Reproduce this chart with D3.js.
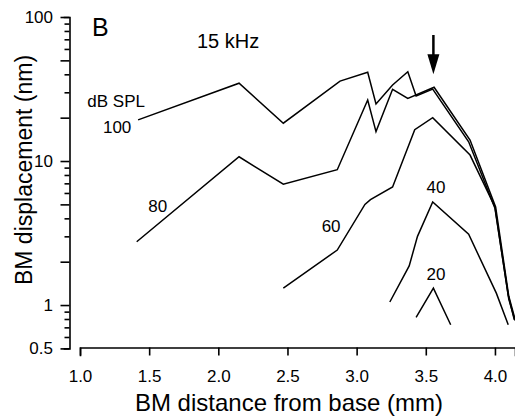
<!DOCTYPE html>
<html>
<head>
<meta charset="utf-8">
<script src="https://cdn.jsdelivr.net/npm/d3@7"></script>
<style>
  body { margin: 0; background: #fff; }
  svg { display: block; font-family: "Liberation Sans", Arial, sans-serif; }
  .axis path, .axis line { stroke: #000; stroke-width: 1.6; }
  .axis text { font-size: 17px; fill: #000; }
  .curve { fill: none; stroke: #000; stroke-width: 1.5; stroke-linejoin: miter; }
</style>
</head>
<body>
<div class="viz"></div>
<script>
var width = 515,
height = 416

// BM distance from base (mm) / displacement (nm), one array per level
var levels = [100, 80, 60, 40, 20]

var dist100 = [1.42, 2.15, 2.47, 2.88, 3.08, 3.14, 3.26, 3.37, 3.43, 3.55, 3.81, 4.0, 4.096, 4.14]
var disp100 = [19.3, 34.7, 18.3, 35.9, 41.3, 24.9, 33.7, 41.7, 28.3, 31.6, 13.6, 4.7, 1.17, 0.79]

var dist80 = [1.41, 2.15, 2.47, 2.86, 3.08, 3.14, 3.26, 3.37, 3.56, 3.82, 4.005, 4.1, 4.145]
var disp80 = [2.75, 10.7, 6.9, 8.7, 26.5, 16, 31.5, 27.2, 32.5, 14, 4.8, 1.15, 0.8]

var dist60 = [2.47, 2.86, 3.06, 3.1, 3.26, 3.42, 3.55, 3.82, 4.0, 4.1, 4.145]
var disp60 = [1.31, 2.41, 5.0, 5.4, 6.6, 16.5, 20, 11, 4.8, 1.1, 0.78]

var dist40 = [3.24, 3.38, 3.44, 3.55, 3.81, 4.01, 4.096]
var disp40 = [1.05, 1.87, 3.0, 5.2, 3.1, 1.21, 0.73]

var dist20 = [3.43, 3.555, 3.68]
var disp20 = [0.82, 1.31, 0.73]

var xTicks = [1.0, 1.5, 2.0, 2.5, 3.0, 3.5, 4.0]
var yLabelled = [0.5, 1, 10, 100]

// text annotations, in data units (mm, nm)
var notes = [
    {text: "B", x: 1.087, y: 73.8, size: 25},
    {text: "15 kHz", x: 1.846, y: 60.6, size: 20},
    {text: "dB SPL", x: 1.053, y: 23.7, size: 17},
    {text: "100", x: 1.166, y: 15.6, size: 17},
    {text: "80", x: 1.494, y: 4.45, size: 17},
    {text: "60", x: 2.747, y: 3.23, size: 17},
    {text: "40", x: 3.506, y: 5.97, size: 17},
    {text: "20", x: 3.506, y: 1.49, size: 17}
]
var arrowX = 3.555, arrowFrom = 75, arrowTo = 40

var series = [
    {level: 100, xs: dist100, ys: disp100},
    {level: 80, xs: dist80, ys: disp80},
    {level: 60, xs: dist60, ys: disp60},
    {level: 40, xs: dist40, ys: disp40},
    {level: 20, xs: dist20, ys: disp20}
]

var x = d3.scaleLinear().domain([1, 4.145]).range([80, 515])
var y = d3.scaleLog().domain([0.5, 100]).range([348.4, 17])

var svg = d3.select(".viz").append("svg")
.attr("width", width)
.attr("height", height)

// y axis: labelled decades, medium ticks at 2 and 5, minor others
var yAll = []
;[0.1, 1, 10].forEach(function(dec) {
    for (var k = 1; k <= 9; k++) {
        var v = +(k * dec).toPrecision(3)
        if (v >= 0.5 && v <= 100) yAll.push(v)
    }
})
yAll.push(100)

var yAxis = svg.append("g")
.attr("class", "axis")
.attr("transform", "translate(69.5,0)")
.call(d3.axisLeft(y).tickValues(yAll).tickSizeOuter(0).tickSize(5).tickPadding(11.5)
    .tickFormat(function(d) { return yLabelled.indexOf(d) >= 0 ? d3.format("")(d) : "" }))

yAxis.selectAll(".tick line")
.attr("x2", function(d) {
    var m = d / Math.pow(10, Math.floor(Math.log10(d) + 1e-9))
    m = Math.round(m)
    return (m === 1 || m === 2 || m === 5) ? -9 : -5
})

svg.append("g")
.attr("class", "axis")
.attr("transform", "translate(0,347.5)")
.call(d3.axisBottom(x).tickValues(xTicks).tickSizeOuter(0).tickSize(8).tickPadding(14)
    .tickFormat(d3.format(".1f")))

svg.selectAll(".axis .domain").attr("stroke-linecap", "square")

// curves
var line = d3.line()
.x(function(d) { return x(d[0]) })
.y(function(d) { return y(d[1]) })

svg.selectAll(".curve")
.data(series)
.enter().append("path")
.attr("class", "curve")
.attr("d", function(s) { return line(s.xs.map(function(v, i) { return [v, s.ys[i]] })) })

// annotations
svg.selectAll(".note")
.data(notes)
.enter().append("text")
.attr("class", "note")
.attr("x", function(d) { return x(d.x) })
.attr("y", function(d) { return y(d.y) })
.style("font-size", function(d) { return d.size + "px" })
.text(function(d) { return d.text })

// arrow at best frequency place
var ax = x(arrowX), ay0 = y(arrowFrom), ay1 = y(arrowTo)
svg.append("line")
.attr("x1", ax).attr("x2", ax)
.attr("y1", ay0).attr("y2", ay1 - 18)
.attr("stroke", "#000")
.attr("stroke-width", 2.5)
svg.append("path")
.attr("d", "M" + (ax - 6) + "," + (ay1 - 20) + "L" + (ax + 6) + "," + (ay1 - 20) + "L" + ax + "," + ay1 + "Z")
.attr("fill", "#000")

// axis titles
svg.append("text")
.attr("x", 289)
.attr("y", 411)
.attr("text-anchor", "middle")
.style("font-size", "24px")
.text("BM distance from base (mm)")

svg.append("text")
.attr("transform", "translate(32,170) rotate(-90)")
.attr("text-anchor", "middle")
.style("font-size", "23px")
.text("BM displacement (nm)")
</script>
</body>
</html>
